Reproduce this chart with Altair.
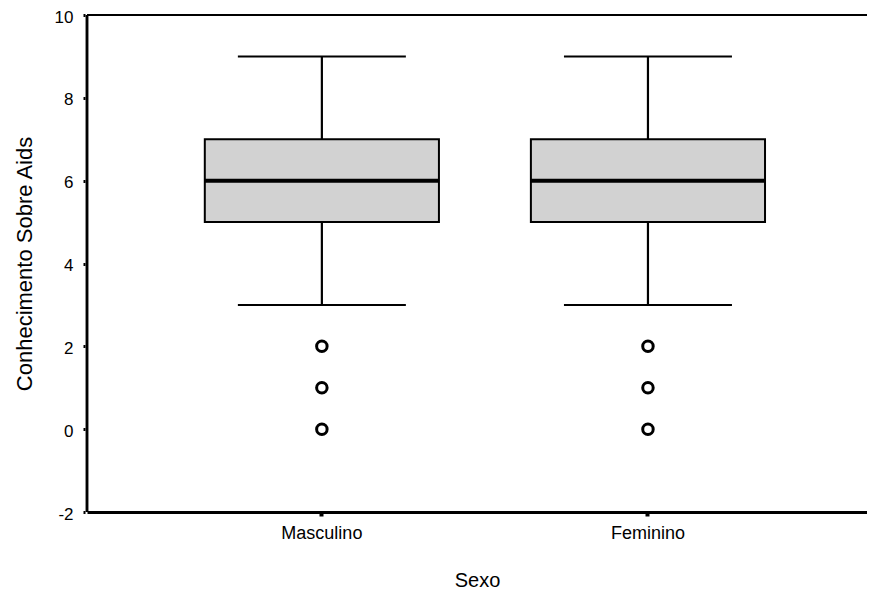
import altair as alt
import pandas as pd

categories = ["Masculino", "Feminino"]
whisker_low = [3, 3]
q1 = [5, 5]
median = [6, 6]
q3 = [7, 7]
whisker_high = [9, 9]
outlier_values = [[0, 1, 2], [0, 1, 2]]
y_ticks = [-2, 0, 2, 4, 6, 8, 10]

W, H = 780, 497
FONT = "Liberation Sans"

boxes = pd.DataFrame({
    "sexo": categories, "lo": whisker_low, "q1": q1,
    "med": median, "q3": q3, "hi": whisker_high,
})
out_rows = []
for cat, vals in zip(categories, outlier_values):
    for v in vals:
        out_rows.append({"sexo": cat, "v": v})
outliers = pd.DataFrame(out_rows)

x_scale = alt.Scale(domain=categories, paddingInner=0.282, paddingOuter=0.337, align=0.536)
y_scale = alt.Scale(domain=[-2, 10], nice=False, zero=False)

x_axis = alt.Axis(
    title="Sexo", labelAngle=0, labelFontSize=18, labelFont=FONT, labelColor="black",
    labelPadding=8, tickSize=4, tickWidth=4, tickColor="black",
    domainWidth=3, domainColor="black", titleFont=FONT, titleFontSize=20,
    titleFontWeight="normal", titleColor="black", titleY=74, titleBaseline="alphabetic",
)
y_axis = alt.Axis(
    title="Conhecimento Sobre Aids", values=y_ticks, domain=False, grid=False,
    offset=2, tickSize=2, tickWidth=3, tickColor="black",
    labelFontSize=17, labelFont=FONT, labelColor="black", labelPadding=10,
    labelBaseline="middle", labelOffset=2,
    labelExpr="'' + datum.value",
    titleFont=FONT, titleFontSize=22, titleFontWeight="normal", titleColor="black",
    titleX=-54, titleY=H / 2, titleBaseline="alphabetic",
)

def X():
    return alt.X("sexo:N", sort=categories, scale=x_scale, axis=x_axis)

def Y(field):
    return alt.Y(f"{field}:Q", scale=y_scale, axis=y_axis)

base = alt.Chart(boxes)

whisk_low = base.mark_rule(color="black", strokeWidth=2.2, opacity=1).encode(
    x=X(), y=Y("lo"), y2="q1:Q")
whisk_high = base.mark_rule(color="black", strokeWidth=2.2, opacity=1).encode(
    x=X(), y=Y("q3"), y2="hi:Q")
cap_low = base.mark_tick(color="black", thickness=2, size=168, orient="horizontal", opacity=1).encode(
    x=X(), y=Y("lo"))
cap_high = base.mark_tick(color="black", thickness=2, size=168, orient="horizontal", opacity=1).encode(
    x=X(), y=Y("hi"))
box = base.mark_bar(fill="#d2d2d2", stroke="black", strokeWidth=2, opacity=1).encode(
    x=X(), y=Y("q1"), y2="q3:Q")
med = base.mark_tick(color="black", thickness=4, size=234, orient="horizontal", opacity=1).encode(
    x=X(), y=Y("med"))
pts = alt.Chart(outliers).mark_point(
    shape="circle", filled=False, color="black", strokeWidth=3, size=110, opacity=1
).encode(x=X(), y=Y("v"))

frame = alt.Chart(boxes).mark_rule(color="black", strokeWidth=2, opacity=1).encode(
    x=alt.value(0), x2=alt.value(W), y=alt.value(0))
left = alt.Chart(boxes).mark_rule(color="black", strokeWidth=2.5, opacity=1).encode(
    x=alt.value(0), y=alt.value(0), y2=alt.value(H))

chart = alt.layer(
    whisk_low, whisk_high, cap_low, cap_high, box, med, pts, frame, left
).properties(
    width=W, height=H,
    autosize=alt.AutoSizeParams(type="none"),
    padding={"left": 79, "top": 7, "right": 0, "bottom": 80},
).configure_view(stroke=None).configure_axis(grid=False)

chart.save("out.html", embed_options={"renderer": "svg", "actions": False})
